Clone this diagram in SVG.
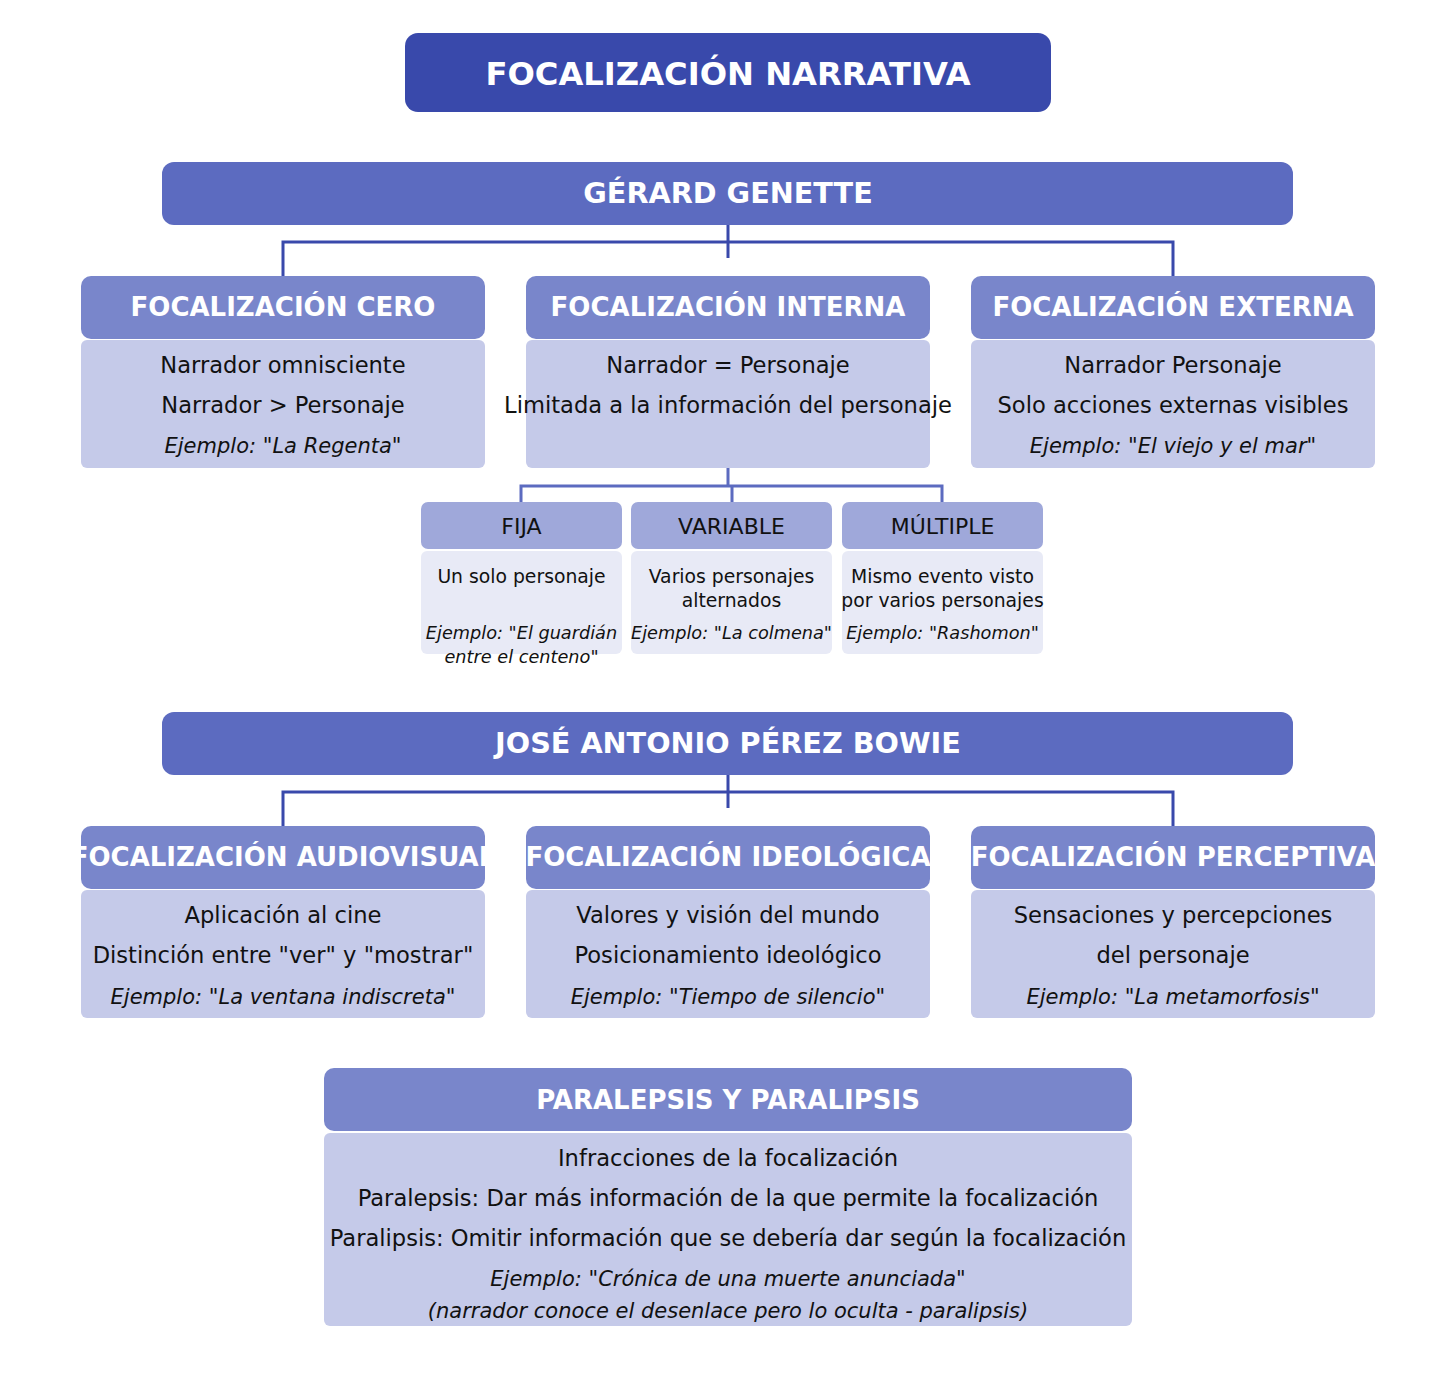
<svg xmlns="http://www.w3.org/2000/svg" width="1456" height="1375" viewBox="0 0 1456 1375">
<style>
text{font-family:"DejaVu Sans","Liberation Sans",sans-serif;text-anchor:middle}
.t0{font-size:32.2px;font-weight:bold;fill:#fff}
.t1{font-size:28.7px;font-weight:bold;fill:#fff}
.t2{font-size:26px;font-weight:bold;fill:#fff}
.b{font-size:22.6px;fill:#111}
.e{font-size:21px;font-style:italic;fill:#111}
.sh{font-size:22px;fill:#111}
.sb{font-size:18.8px;fill:#111}
.se{font-size:17.7px;font-style:italic;fill:#111}
.up{font-style:normal}
.c0{fill:#3949AB}
.c1{fill:#5C6BC0}
.c2{fill:#7986CB}
.c3{fill:#C5CAE9}
.c4{fill:#9FA8DA}
.c5{fill:#E8EAF6}
.ln{fill:none;stroke:#3949AB;stroke-width:3}
.ln2{fill:none;stroke:#5C6BC0;stroke-width:3}
</style>
<defs>
<clipPath id="cpA"><rect x="81" y="826" width="404" height="63" rx="10"/></clipPath>
<clipPath id="cpI"><rect x="526" y="826" width="404" height="63" rx="10"/></clipPath>
<clipPath id="cpP"><rect x="971" y="826" width="404" height="63" rx="10"/></clipPath>
</defs>
<rect width="1456" height="1375" fill="#fff"/>
<g id="connectors">
<path class="ln" d="M728 225V258M283 276V242H1173V276"/>
<path class="ln2" d="M728 468V486M521 502V486H942V502M732 486V502"/>
<path class="ln" d="M728 775V808M283 826V792H1173V826"/>
</g>
<g id="title">
<rect class="c0" x="405" y="33" width="646" height="79" rx="13"/>
<text class="t0" x="728" y="85">FOCALIZACIÓN NARRATIVA</text>
</g>
<g id="genette">
<rect class="c1" x="162" y="162" width="1131" height="63" rx="12"/>
<text class="t1" x="728" y="203">GÉRARD GENETTE</text>
</g>
<g id="cero">
<rect class="c3" x="81" y="340" width="404" height="128" rx="6"/>
<rect class="c2" x="81" y="276" width="404" height="63" rx="10"/>
<text class="t2" x="283" y="316">FOCALIZACIÓN CERO</text>
<text class="b" x="283" y="373">Narrador omnisciente</text>
<text class="b" x="283" y="413">Narrador &gt; Personaje</text>
<text class="e" x="283" y="453">Ejemplo: "La Regenta<tspan class="up">"</tspan></text>
</g>
<g id="interna">
<rect class="c3" x="526" y="340" width="404" height="128" rx="6"/>
<rect class="c2" x="526" y="276" width="404" height="63" rx="10"/>
<text class="t2" x="728" y="316">FOCALIZACIÓN INTERNA</text>
<text class="b" x="728" y="373">Narrador = Personaje</text>
<text class="b" x="728" y="413">Limitada a la información del personaje</text>
</g>
<g id="externa">
<rect class="c3" x="971" y="340" width="404" height="128" rx="6"/>
<rect class="c2" x="971" y="276" width="404" height="63" rx="10"/>
<text class="t2" x="1173" y="316">FOCALIZACIÓN EXTERNA</text>
<text class="b" x="1173" y="373">Narrador Personaje</text>
<text class="b" x="1173" y="413">Solo acciones externas visibles</text>
<text class="e" x="1173" y="453">Ejemplo: "El viejo y el mar<tspan class="up">"</tspan></text>
</g>
<g id="fija">
<rect class="c5" x="421" y="551" width="201" height="103" rx="6"/>
<rect class="c4" x="421" y="502" width="201" height="47" rx="7"/>
<text class="sh" x="521.5" y="534">FIJA</text>
<text class="sb" x="521.5" y="583">Un solo personaje</text>
<text class="se" x="521.5" y="639">Ejemplo: "El guardián</text>
<text class="se" x="521.5" y="663">entre el centeno<tspan class="up">"</tspan></text>
</g>
<g id="variable">
<rect class="c5" x="631" y="551" width="201" height="103" rx="6"/>
<rect class="c4" x="631" y="502" width="201" height="47" rx="7"/>
<text class="sh" x="731.5" y="534">VARIABLE</text>
<text class="sb" x="731.5" y="583">Varios personajes</text>
<text class="sb" x="731.5" y="607">alternados</text>
<text class="se" x="731.5" y="639">Ejemplo: "La colmena<tspan class="up">"</tspan></text>
</g>
<g id="multiple">
<rect class="c5" x="842" y="551" width="201" height="103" rx="6"/>
<rect class="c4" x="842" y="502" width="201" height="47" rx="7"/>
<text class="sh" x="942.5" y="534">MÚLTIPLE</text>
<text class="sb" x="942.5" y="583">Mismo evento visto</text>
<text class="sb" x="942.5" y="607">por varios personajes</text>
<text class="se" x="942.5" y="639">Ejemplo: "Rashomon<tspan class="up">"</tspan></text>
</g>
<g id="bowie">
<rect class="c1" x="162" y="712" width="1131" height="63" rx="12"/>
<text class="t1" x="728" y="753">JOSÉ ANTONIO PÉREZ BOWIE</text>
</g>
<g id="audiovisual">
<rect class="c3" x="81" y="890" width="404" height="128" rx="6"/>
<rect class="c2" x="81" y="826" width="404" height="63" rx="10"/>
<text class="t2" x="283" y="866" clip-path="url(#cpA)">FOCALIZACIÓN AUDIOVISUAL</text>
<text class="b" x="283" y="923">Aplicación al cine</text>
<text class="b" x="283" y="963">Distinción entre "ver" y "mostrar"</text>
<text class="e" x="283" y="1004">Ejemplo: "La ventana indiscreta<tspan class="up">"</tspan></text>
</g>
<g id="ideologica">
<rect class="c3" x="526" y="890" width="404" height="128" rx="6"/>
<rect class="c2" x="526" y="826" width="404" height="63" rx="10"/>
<text class="t2" x="728" y="866" clip-path="url(#cpI)">FOCALIZACIÓN IDEOLÓGICA</text>
<text class="b" x="728" y="923">Valores y visión del mundo</text>
<text class="b" x="728" y="963">Posicionamiento ideológico</text>
<text class="e" x="728" y="1004">Ejemplo: "Tiempo de silencio<tspan class="up">"</tspan></text>
</g>
<g id="perceptiva">
<rect class="c3" x="971" y="890" width="404" height="128" rx="6"/>
<rect class="c2" x="971" y="826" width="404" height="63" rx="10"/>
<text class="t2" x="1173" y="866" clip-path="url(#cpP)">FOCALIZACIÓN PERCEPTIVA</text>
<text class="b" x="1173" y="923">Sensaciones y percepciones</text>
<text class="b" x="1173" y="963">del personaje</text>
<text class="e" x="1173" y="1004">Ejemplo: "La metamorfosis<tspan class="up">"</tspan></text>
</g>
<g id="paralepsis">
<rect class="c3" x="324" y="1133" width="808" height="193" rx="6"/>
<rect class="c2" x="324" y="1068" width="808" height="63" rx="10"/>
<text class="t2" x="728" y="1109">PARALEPSIS Y PARALIPSIS</text>
<text class="b" x="728" y="1166">Infracciones de la focalización</text>
<text class="b" x="728" y="1206">Paralepsis: Dar más información de la que permite la focalización</text>
<text class="b" x="728" y="1246">Paralipsis: Omitir información que se debería dar según la focalización</text>
<text class="e" x="728" y="1286">Ejemplo: "Crónica de una muerte anunciada<tspan class="up">"</tspan></text>
<text class="e" x="728" y="1318">(narrador conoce el desenlace pero lo oculta - paralipsis)</text>
</g>
</svg>
